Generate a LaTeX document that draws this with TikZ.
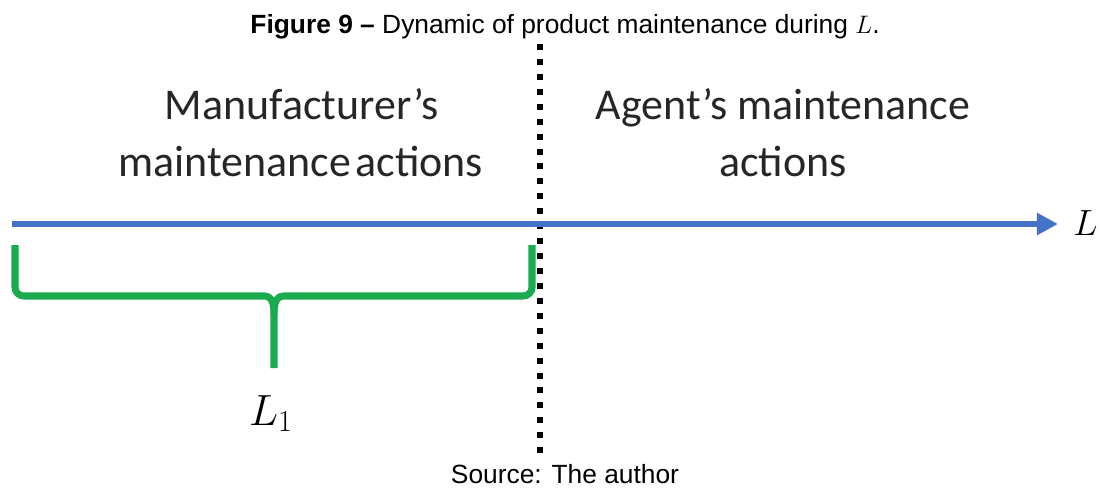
\documentclass[tikz,border=0pt]{standalone}
\usepackage{fontspec}
\usepackage{amsmath}
\setmainfont{Liberation Sans}
\newfontfamily\calibri{Carlito}
\usetikzlibrary{arrows.meta}
\definecolor{axisblue}{HTML}{4472C4}
\definecolor{bracegreen}{HTML}{1AAB4F}
\definecolor{textgray}{HTML}{262626}

\begin{document}
\begin{tikzpicture}[x=0.02cm, y=-0.02cm,
  caption/.style={font=\fontsize{15}{18}\selectfont, anchor=base, inner sep=0pt},
  phase/.style={font=\calibri\fontsize{25}{30}\selectfont, text=textgray, anchor=base, inner sep=0pt},
  mathlbl/.style={font=\fontsize{25}{30}\selectfont, inner sep=0pt},
  divider/.style={line width=3.4pt, dash pattern=on 3.4pt off 5.1pt},
  axis/.style={axisblue, line width=3.4pt, -{Triangle[length=12pt, width=12pt]}},
  brace/.style={bracegreen, line width=4pt, line join=round}
]
  \useasboundingbox (0,0) rectangle (1102,488);

  \node[caption] (title) at (565,33) {\textbf{Figure 9 –} Dynamic of product maintenance during $L$.};
  \node[caption] (source) at (565,483) {Source: The author};

  \node[phase] (mfrtop) at (302,119) {Manufacturer’s};
  \node[phase] (mfrbot) at (301,176) {maintenance\hspace{0.1em}actions};
  \node[phase] (agttop) at (783,119) {Agent’s maintenance};
  \node[phase] (agtbot) at (783,176) {actions};

  \coordinate (divtop) at (540,44);
  \coordinate (divbot) at (540,460);
  \draw[divider] (divtop) -- (divbot);

  \coordinate (axstart) at (12,224);
  \coordinate (axend) at (1058,224);
  \node[mathlbl, font=\fontsize{22}{26}\selectfont, anchor=west] (len) at (1073,223) {$L$};
  \draw[axis] (axstart) -- (axend);

  % brace under the manufacturer's part
  \coordinate (stemtop) at (274,314);
  \coordinate (stembot) at (274,368);
  \draw[brace] (15,245) [rounded corners=5pt] -- (15,296) -- (256,296) [sharp corners]
    .. controls (270,296) and (274,300) .. (stemtop) -- (stembot);
  \draw[brace] (532,245) [rounded corners=5pt] -- (532,296) -- (292,296) [sharp corners]
    .. controls (278,296) and (274,300) .. (stemtop);
  \node[mathlbl, anchor=base] (lone) at (271,425) {$L_1$};
\end{tikzpicture}
\end{document}
